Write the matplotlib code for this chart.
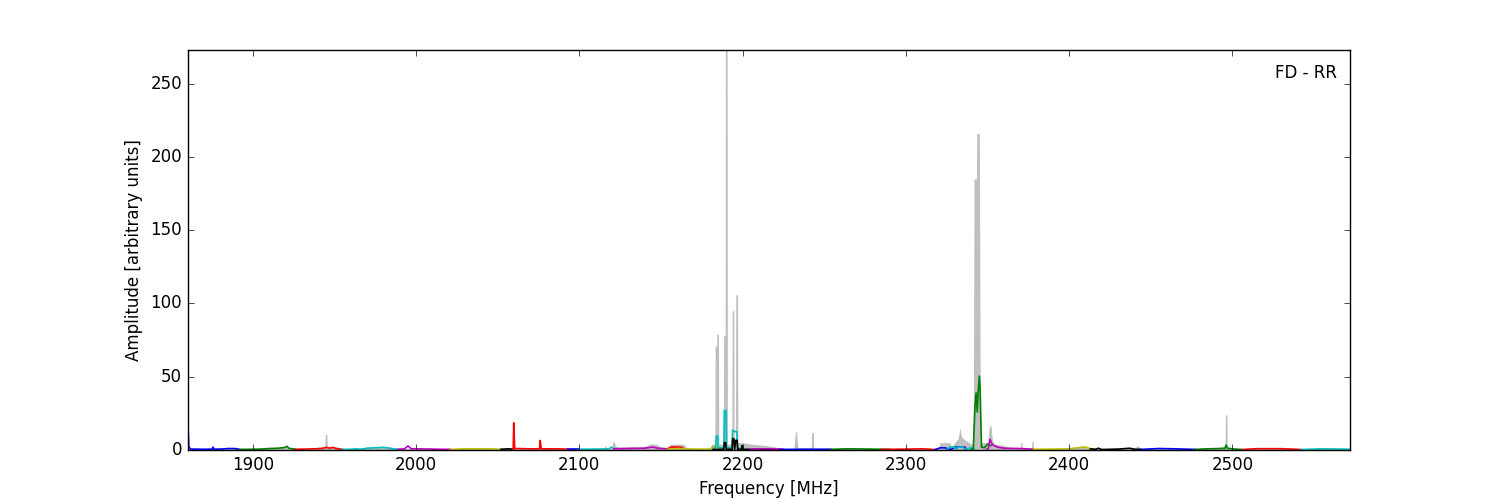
import matplotlib
matplotlib.use("Agg")
import matplotlib.pyplot as plt

# max-hold envelope (grey)
grey_freq = [1860, 1870, 1890, 1915, 1920, 1925, 1935, 1940, 1944.1, 1944.4, 1945.3, 1945.6,
             1950, 1955, 1965, 1970, 1980, 1985, 1990, 2000, 2020, 2050, 2059, 2059.2, 2060.1,
             2060.3, 2075.5, 2075.8, 2076.7, 2090, 2115, 2116, 2117, 2120, 2120.5, 2121.5, 2122,
             2124, 2140, 2143, 2147, 2150, 2154, 2156, 2164, 2166, 2180, 2181, 2183, 2183.2,
             2184.1, 2184.2, 2185.2, 2185.4, 2188.2, 2188.4, 2189.3, 2189.4, 2190.5, 2190.7,
             2193.4, 2193.6, 2194.6, 2194.8, 2195.6, 2195.8, 2196.9, 2197.1, 2200, 2205, 2210,
             2215, 2220, 2225, 2231.5, 2232.3, 2233, 2233.8, 2242, 2242.3, 2243.3, 2243.6, 2260,
             2280, 2320, 2321, 2327, 2328, 2330, 2332, 2333.2, 2334, 2336, 2340, 2341.3, 2341.7,
             2343.2, 2343.4, 2345.0, 2345.6, 2348, 2350, 2351, 2352, 2353, 2355, 2360, 2363,
             2370, 2370.3, 2371.0, 2371.3, 2377, 2377.2, 2377.9, 2378.2, 2400, 2408, 2412, 2415,
             2440, 2442, 2444, 2490, 2493, 2495.5, 2495.7, 2496.6, 2496.8, 2500, 2572]
grey_amp = [1.5, 1, 1, 1.5, 2.5, 1, 1, 2, 2, 10.7, 10.7, 2.5,
            2.5, 1, 1, 2, 2.5, 2, 1, 1, 1, 1, 1, 19, 19,
            1.5, 1.5, 8, 1.5, 1, 1, 3, 1, 1, 5.5, 5.5, 3,
            2, 2.5, 4, 4, 2, 1.5, 4, 4, 1, 1, 4, 4, 71,
            71, 79, 79, 4, 4, 78, 78, 273, 273, 4,
            4, 95, 95, 4, 4, 106, 106, 5, 5, 4, 3.5,
            3, 2, 1, 1, 12, 13, 1.5, 1.5, 12, 12, 1, 1.5,
            1, 1, 5, 5, 2, 5, 8, 15, 9, 7, 4, 5, 185,
            185, 216, 216, 5, 5, 5, 15, 17.5, 6, 4, 3, 2,
            1, 5, 5, 1, 1, 6, 6, 1, 1, 3, 2, 1,
            1.5, 3, 1, 1, 2, 2, 24, 24, 2, 1, 1]

# coloured traces, one per sub-band
band_freqs = [
    [1860.3, 1860.8, 1862, 1870, 1875.2, 1875.6, 1876.2, 1880, 1885, 1889, 1892],
    [1892, 1900, 1905, 1910, 1915, 1919, 1921, 1922, 1926],
    [1926, 1932, 1938, 1942, 1945, 1947, 1949, 1951, 1955],
    [1955, 1960, 1963, 1966, 1970, 1975, 1980, 1984, 1986, 1989],
    [1989, 1993, 1995, 1997, 2000, 2010, 2021],
    [2021, 2030, 2045, 2052],
    [2052, 2056, 2059.5],
    [2059.5, 2059.8, 2060.4, 2070, 2075.6, 2076, 2076.6, 2085, 2093],
    [2093, 2100],
    [2100, 2110, 2118, 2120, 2121],
    [2121, 2130, 2140, 2145, 2148, 2154],
    [2154, 2156, 2162, 2164],
    [2154, 2160, 2170, 2180, 2183.5, 2185],
    [2182, 2183.5, 2183.8, 2184.8, 2185.1, 2188.5, 2188.8, 2189.8, 2190.1, 2193.5, 2193.8,
     2194.8, 2195.5, 2196.5, 2196.8, 2200],
    [2182, 2188.5, 2188.8, 2189.6, 2190, 2193.6, 2193.9, 2194.7, 2195.1, 2195.8, 2196.6,
     2197, 2199.4, 2199.7, 2200.1, 2223],
    [2205, 2215, 2225],
    [2223, 2240, 2254],
    [2254, 2265, 2280, 2290],
    [2285, 2300, 2310, 2318],
    [2318, 2321, 2324, 2326, 2328, 2330, 2336, 2337],
    [2325, 2327, 2330, 2331, 2332, 2335, 2336, 2340, 2342],
    [2340, 2341.3, 2342.3, 2343, 2343.7, 2344.3, 2345, 2345.5, 2346.3, 2348, 2350, 2352],
    [2349.5, 2350.5, 2351.5, 2353, 2356, 2360, 2370, 2378],
    [2378, 2390, 2400, 2405, 2410, 2413],
    [2413, 2416, 2418, 2420, 2430, 2437, 2440, 2444],
    [2444, 2455, 2465, 2477],
    [2477, 2485, 2492, 2495.5, 2496, 2497, 2500, 2506],
    [2506, 2515, 2530, 2542],
    [2542, 2555, 2572],
]
band_amps = [
    [17, 2, 0.6, 0.5, 0.6, 2, 0.6, 0.6, 1.0, 1.0, 0.4],
    [0.4, 0.5, 0.6, 1.0, 1.2, 1.6, 2.5, 1.2, 0.5],
    [0.5, 0.6, 0.8, 1.0, 1.8, 1.2, 1.8, 1.0, 0.4],
    [0.4, 0.5, 0.8, 0.5, 1.2, 1.5, 1.8, 1.2, 0.6, 0.5],
    [0.5, 0.8, 2.8, 0.8, 0.8, 0.6, 0.4],
    [0.4, 0.8, 0.8, 0.5],
    [0.5, 0.8, 0.6],
    [0.6, 18.5, 1.0, 0.8, 0.8, 6.5, 0.8, 0.8, 0.6],
    [0.6, 0.6],
    [0.5, 0.6, 0.8, 2.0, 0.8],
    [0.8, 1.0, 1.2, 2.0, 1.2, 0.8],
    [0.8, 2.0, 2.0, 1.0],
    [0.5, 1.0, 0.6, 0.6, 3.0, 1.0],
    [1, 1.5, 9.5, 9.5, 1.5, 1.5, 27, 27, 1.5, 1.5, 13.5, 13, 12.5, 12.5, 1, 1],
    [0.3, 0.5, 5, 5, 0.5, 0.5, 7.7, 7.7, 0.5, 6.6, 6.6, 0.5, 0.5, 3, 0.5, 0.3],
    [0.6, 0.8, 0.5],
    [0.4, 0.5, 0.5],
    [0.4, 0.8, 0.6, 0.4],
    [0.4, 0.6, 0.8, 0.3],
    [0.3, 1.5, 1.5, 0.5, 0.5, 2.0, 2.0, 0.5],
    [0.3, 2, 2, 0.5, 2, 2, 0.5, 1.5, 0.5],
    [0.5, 1, 30, 39, 26, 40, 50.5, 40, 2, 1.5, 4, 3],
    [0.5, 1, 7.3, 3.5, 2, 1.2, 1, 0.6],
    [0.5, 0.6, 0.8, 1.5, 2, 0.8],
    [0.8, 0.5, 1.2, 0.3, 0.6, 1.2, 0.5, 0.4],
    [0.4, 1.0, 0.8, 0.4],
    [0.4, 0.8, 1.0, 1.2, 3.4, 1.2, 0.8, 0.3],
    [0.3, 0.9, 0.9, 0.3],
    [0.3, 0.8, 0.5],
]
band_colors = ['b', 'g', 'r', 'c', 'm', 'y', 'k', 'r', 'b', 'c', 'm', 'r', 'y', 'c', 'k',
               'm', 'b', 'g', 'r', 'b', 'c', 'g', 'm', 'y', 'k', 'b', 'g', 'r', 'c']

label = "FD - RR"


def draw():
    plt.style.use('classic')
    fig = plt.figure(figsize=(15, 5), dpi=100, facecolor='white')
    ax = fig.add_subplot(111)

    ax.fill_between(grey_freq, 0, grey_amp, color='0.75', linewidth=0)
    for f, a, c in zip(band_freqs, band_amps, band_colors):
        ax.plot(f, a, color=c, linewidth=1.2)

    ax.set_xlim(1860, 2572)
    ax.set_ylim(0, 273)
    ax.set_xticks([1900, 2000, 2100, 2200, 2300, 2400, 2500])
    ax.set_yticks([0, 50, 100, 150, 200, 250])
    ax.set_xlabel('Frequency [MHz]')
    ax.set_ylabel('Amplitude [arbitrary units]')
    ax.text(0.989, 0.965, label, transform=ax.transAxes, ha='right', va='top', fontsize=12)

    fig.savefig('out.png', dpi=100, facecolor='white')


if __name__ == '__main__':
    draw()
